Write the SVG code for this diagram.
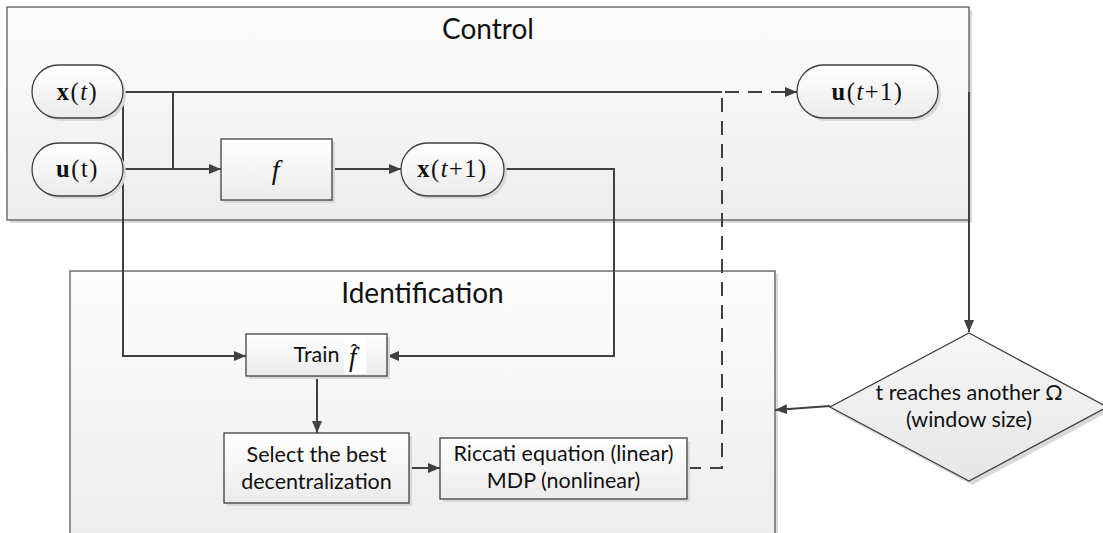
<svg xmlns="http://www.w3.org/2000/svg" width="1103" height="533" viewBox="0 0 1103 533">
<defs>
<linearGradient id="gCont" x1="0" y1="0" x2="0" y2="1"><stop offset="0" stop-color="#fdfdfd"/><stop offset="1" stop-color="#ededed"/></linearGradient>
<linearGradient id="gNode" x1="0" y1="0" x2="0" y2="1"><stop offset="0" stop-color="#ffffff"/><stop offset="1" stop-color="#ebebeb"/></linearGradient>
<linearGradient id="gDia" x1="0" y1="0" x2="0" y2="1"><stop offset="0" stop-color="#f7f7f7"/><stop offset="1" stop-color="#e6e6e6"/></linearGradient>
<marker id="arr" viewBox="0 0 12 10" refX="12" refY="5" markerWidth="12" markerHeight="10" markerUnits="userSpaceOnUse" orient="auto"><path d="M0,0 L12,5 L0,10 z" fill="#404040"/></marker>
</defs>
<style>
.cont{fill:url(#gCont);stroke:#5a5a5a;stroke-width:1.3}
.shadow{fill:#d9d9d9}
.node{fill:url(#gNode);stroke:#404040;stroke-width:1.3}
.dia{fill:url(#gDia);stroke:#404040;stroke-width:1.3}
.conn{fill:none;stroke:#404040;stroke-width:2}
.dash{stroke-dasharray:14 9}
.t{font-family:Lato,"Open Sans",sans-serif;fill:#111;text-anchor:middle}
.title{font-size:28px}
.body{font-size:21.5px}
.m{font-family:"Liberation Serif","Times New Roman",serif;font-size:24.5px;fill:#111;text-anchor:middle;letter-spacing:1.5px}
</style>

<g id="control-container">
<rect class="shadow" x="10" y="10" width="962" height="213"/>
<rect class="cont" x="7" y="7" width="962" height="213"/>
<text class="t title" x="488" y="39">Control</text>
</g>

<g id="identification-container">
<rect class="shadow" x="73" y="274" width="705" height="270"/>
<rect class="cont" x="70" y="271" width="705" height="270"/>
<text class="t title" x="422.5" y="303">Identification</text>
</g>

<g id="connectors">
<path class="conn" d="M123,92 H722"/>
<path class="conn" d="M173,92 V169"/>
<path class="conn" d="M123,169 H221" marker-end="url(#arr)"/>
<path class="conn" d="M123,92 V356 H246" marker-end="url(#arr)"/>
<path class="conn" d="M332,169 H401" marker-end="url(#arr)"/>
<path class="conn" d="M504,169 H614 V356 H387" marker-end="url(#arr)"/>
<path class="conn" d="M317,376 V433" marker-end="url(#arr)"/>
<path class="conn" d="M409,468 H440" marker-end="url(#arr)"/>
<path class="conn dash" d="M687,468 H722 V92 H797" marker-end="url(#arr)"/>
<path class="conn" d="M969,92 V332" marker-end="url(#arr)"/>
<path class="conn" d="M830,406 L775,410" marker-end="url(#arr)"/>
</g>

<g id="node-xt">
<rect class="shadow" x="35" y="68" width="91" height="53" rx="26.5"/>
<rect class="node" x="32" y="65" width="91" height="53" rx="26.5"/>
<text class="m" x="77.5" y="100"><tspan font-weight="bold">x</tspan>(<tspan font-style="italic">t</tspan>)</text>
</g>

<g id="node-ut">
<rect class="shadow" x="35" y="146" width="91" height="53" rx="26.5"/>
<rect class="node" x="32" y="143" width="91" height="53" rx="26.5"/>
<text class="m" x="77.5" y="177"><tspan font-weight="bold">u</tspan>(t)</text>
</g>

<g id="node-f">
<rect class="shadow" x="224" y="142" width="111" height="61"/>
<rect class="node" x="221" y="139" width="111" height="61"/>
<text class="m" x="276.5" y="179" font-style="italic" style="font-size:28px">f</text>
</g>

<g id="node-xt1">
<rect class="shadow" x="404" y="146" width="103" height="53" rx="26.5"/>
<rect class="node" x="401" y="143" width="103" height="53" rx="26.5"/>
<text class="m" x="452.5" y="177"><tspan font-weight="bold">x</tspan>(<tspan font-style="italic">t</tspan>+1)</text>
</g>

<g id="node-ut1">
<rect class="shadow" x="800" y="68" width="141" height="53" rx="26.5"/>
<rect class="node" x="797" y="65" width="141" height="53" rx="26.5"/>
<text class="m" x="867.5" y="100"><tspan font-weight="bold">u</tspan>(<tspan font-style="italic">t</tspan>+1)</text>
</g>

<g id="node-train">
<rect class="shadow" x="249" y="337" width="141" height="42"/>
<rect class="node" x="246" y="334" width="141" height="42"/>
<rect x="344" y="336" width="22" height="38" fill="#ffffff"/>
<text class="t body" x="316.5" y="362">Train</text>
<text x="349" y="366" font-family="Liberation Serif, serif" font-size="27" fill="#111"><tspan font-style="italic">f</tspan><tspan dx="-6" dy="-7" font-size="22">ˆ</tspan></text>
</g>

<g id="node-select">
<rect class="shadow" x="227" y="436" width="185" height="70"/>
<rect class="node" x="224" y="433" width="185" height="70"/>
<text class="t body" x="316.5" y="462">Select the best</text>
<text class="t body" x="316.5" y="489">decentralization</text>
</g>

<g id="node-riccati">
<rect class="shadow" x="443" y="441" width="247" height="61"/>
<rect class="node" x="440" y="438" width="247" height="61"/>
<text class="t body" x="563.5" y="461">Riccati equation (linear)</text>
<text class="t body" x="563.5" y="488">MDP (nonlinear)</text>
</g>

<g id="node-decision">
<polygon class="shadow" points="972,336 1110,411 972,485 833,411"/>
<polygon class="dia" points="969,333 1107,407 969,481 830,407"/>
<text class="t body" x="969" y="400">t reaches another Ω</text>
<text class="t body" x="969" y="427">(window size)</text>
</g>
</svg>
